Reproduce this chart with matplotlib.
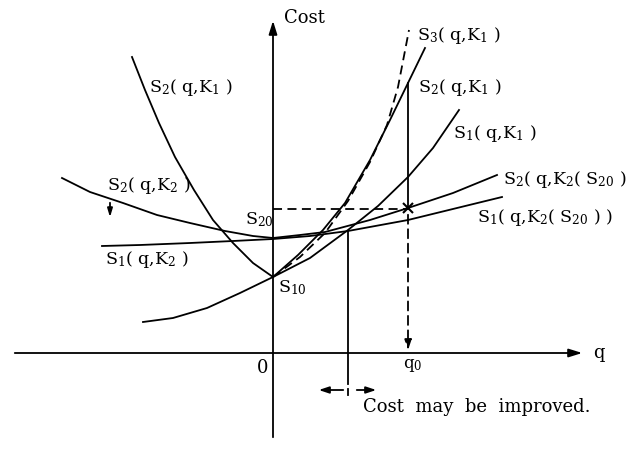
import matplotlib.pyplot as plt

plt.rcParams['font.family'] = 'DejaVu Serif'
plt.rcParams['mathtext.fontset'] = 'dejavuserif'

# cost curves, q on the x axis and cost on the y axis
s2_k1_left_q = [-141, -128, -114, -98, -79, -60, -40, -20, 0]
s2_k1_left_c = [296, 263, 230, 196, 163, 133, 110, 90, 76]
s2_k1_right_q = [0, 25, 50, 72, 97, 117, 135, 152]
s2_k1_right_c = [76, 98, 123, 150, 193, 233, 270, 305]
s3_k1_q = [0, 27, 52, 75, 97, 114, 125, 136]
s3_k1_c = [76, 96, 120, 152, 191, 228, 266, 323]
s1_k1_q = [-130, -100, -66, -33, 0, 37, 75, 105, 135, 160, 186]
s1_k1_c = [31, 35, 45, 60, 76, 95, 123, 147, 176, 205, 243]
s2_k2_q = [-211, -183, -150, -116, -83, -48, -20, 0]
s2_k2_c = [175, 161, 150, 138, 130, 122, 117, 115]
s2_k2s20_q = [0, 27, 52, 97, 135, 180, 224]
s2_k2s20_c = [115, 118, 121, 133, 145, 160, 178]
s1_k2_q = [-171, -133, -83, -40, 0]
s1_k2_c = [107, 108, 110, 112, 114]
s1_k2s20_q = [0, 37, 75, 135, 184, 229]
s1_k2s20_c = [114, 117, 122, 133, 145, 156]

q0 = 135
q_improve = 75
s20_level = 144
x_mark_c = 145
s2_at_q0 = 270
s1_at_improve = 122

fig = plt.figure(figsize=(6.34, 4.5), dpi=100)
ax = fig.add_axes([0, 0, 1, 1])
ax.set_xlim(-273, 361)
ax.set_ylim(-97, 353)
ax.axis('off')

lw = 1.3
k = 'black'
dash = (0, (5, 3))

# axes with arrow heads
ax.annotate('', xy=(312, 0), xytext=(-261, 0),
            arrowprops=dict(arrowstyle='-|>,head_length=0.8,head_width=0.25', color=k, lw=lw))
ax.annotate('', xy=(0, 335), xytext=(0, -87),
            arrowprops=dict(arrowstyle='-|>,head_length=0.8,head_width=0.25', color=k, lw=lw))

# curves
ax.plot(s2_k1_left_q, s2_k1_left_c, color=k, lw=lw)
ax.plot(s2_k1_right_q, s2_k1_right_c, color=k, lw=lw)
ax.plot(s3_k1_q, s3_k1_c, color=k, lw=lw, ls=dash)
ax.plot(s1_k1_q, s1_k1_c, color=k, lw=lw)
ax.plot(s2_k2_q, s2_k2_c, color=k, lw=lw)
ax.plot(s2_k2s20_q, s2_k2s20_c, color=k, lw=lw)
ax.plot(s1_k2_q, s1_k2_c, color=k, lw=lw)
ax.plot(s1_k2s20_q, s1_k2s20_c, color=k, lw=lw)

# S20 level and the q0 construction
ax.plot([0, q0], [s20_level, s20_level], color=k, lw=lw, ls=dash)
ax.plot([q0, q0], [s2_at_q0, x_mark_c], color=k, lw=lw)
ax.plot(q0, x_mark_c, marker='x', color=k, ms=7, mew=1.5)
ax.annotate('', xy=(q0, 0), xytext=(q0, x_mark_c - 4),
            arrowprops=dict(arrowstyle='-|>,head_length=0.6,head_width=0.2', color=k,
                            lw=lw, ls=dash))

# boundary where cost may be improved
ax.plot([q_improve, q_improve], [s1_at_improve, -31], color=k, lw=lw)
ax.plot([q_improve, q_improve], [-36, -42], color=k, lw=lw)
ax.annotate('', xy=(q_improve - 32, -37), xytext=(q_improve - 2, -37),
            arrowprops=dict(arrowstyle='-|>,head_length=0.6,head_width=0.2', color=k, lw=lw))
ax.annotate('', xy=(q_improve + 31, -37), xytext=(q_improve + 6, -37),
            arrowprops=dict(arrowstyle='-|>,head_length=0.6,head_width=0.2', color=k, lw=lw))

# S2(q,K2) may move down
ax.annotate('', xy=(-163, 133), xytext=(-163, 153),
            arrowprops=dict(arrowstyle='-|>,head_length=0.5,head_width=0.15', color=k, lw=lw))

fs = 12.5
ax.text(11, 335, 'Cost', fontsize=13, va='center', ha='left')
ax.text(320, 0, 'q', fontsize=13, va='center', ha='left')
ax.text(-10, -15, '0', fontsize=13, va='center', ha='center')
ax.text(q0 - 5, -12, r'q$_0$', fontsize=12, va='center', ha='left')
ax.text(90, -54, 'Cost  may  be  improved.', fontsize=13, va='center', ha='left')

ax.text(-124, 266, r'S$_2$( q,K$_1$ )', fontsize=fs, va='center', ha='left')
ax.text(-166, 168, r'S$_2$( q,K$_2$ )', fontsize=fs, va='center', ha='left')
ax.text(-168, 93, r'S$_1$( q,K$_2$ )', fontsize=fs, va='center', ha='left')
ax.text(-28, 133, r'S$_{20}$', fontsize=fs, va='center', ha='left')
ax.text(5, 65, r'S$_{10}$', fontsize=fs, va='center', ha='left')
ax.text(144, 318, r'S$_3$( q,K$_1$ )', fontsize=fs, va='center', ha='left')
ax.text(145, 265, r'S$_2$( q,K$_1$ )', fontsize=fs, va='center', ha='left')
ax.text(180, 220, r'S$_1$( q,K$_1$ )', fontsize=fs, va='center', ha='left')
ax.text(230, 173, r'S$_2$( q,K$_2$( S$_{20}$ )', fontsize=fs, va='center', ha='left')
ax.text(204, 136, r'S$_1$( q,K$_2$( S$_{20}$ ) )', fontsize=fs, va='center', ha='left')

fig.savefig('out.png', dpi=100)
